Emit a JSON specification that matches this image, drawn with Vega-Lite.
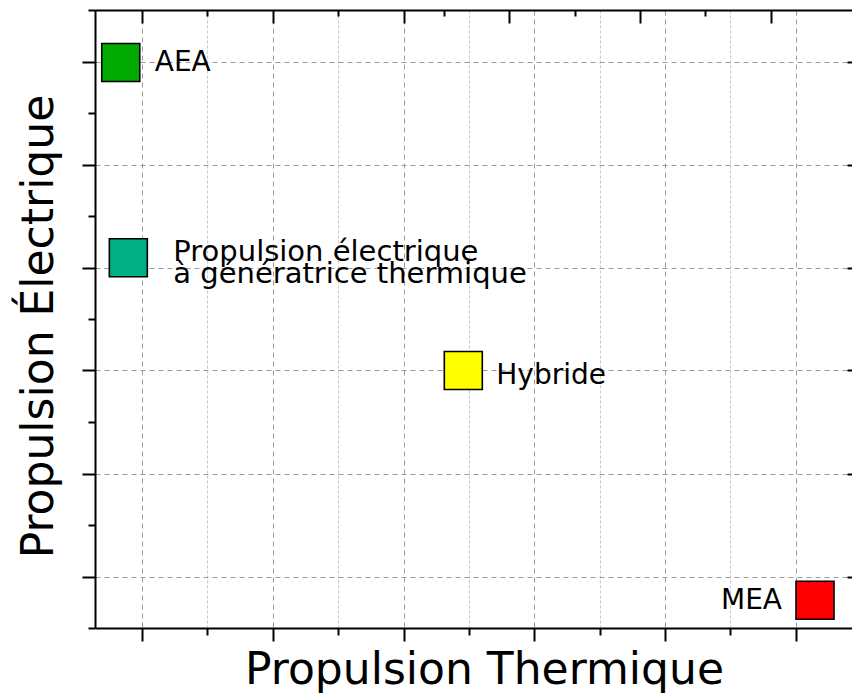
{
  "$schema": "https://vega.github.io/schema/vega-lite/v6.json",
  "width": 757,
  "height": 618,
  "autosize": "none",
  "padding": {"left": 95, "top": 10, "right": 0, "bottom": 65},
  "background": "white",
  "config": {"view": {"stroke": null}, "font": "DejaVu Sans"},
  "data": {
    "values": [
      {"name": "AEA", "label": "AEA", "thermique": 0.837, "electrique": 5.99},
      {"name": "PEGT", "label": "Propulsion électrique\nà génératrice thermique", "thermique": 0.895, "electrique": 4.094},
      {"name": "Hybride", "label": "Hybride", "thermique": 3.457, "electrique": 3.0},
      {"name": "MEA", "label": "MEA", "thermique": 6.147, "electrique": 0.769}
    ]
  },
  "layer": [
    {
      "mark": {"type": "square", "size": 1444, "opacity": 1, "filled": true, "stroke": "black", "strokeWidth": 1.6},
      "encoding": {
        "x": {
          "field": "thermique", "type": "quantitative",
          "scale": {"domain": [0.64, 6.43], "nice": false, "zero": false},
          "axis": {
            "orient": "bottom",
            "values": [1, 1.5, 2, 2.5, 3, 3.5, 4, 4.5, 5, 5.5, 6],
            "labels": false,
            "tickSize": {"condition": {"test": "datum.value % 1 === 0", "value": 13}, "value": 7},
            "tickColor": "black", "tickWidth": 2,
            "domainColor": "black", "domainWidth": 2,
            "grid": true,
            "gridColor": {"condition": {"test": "datum.value % 1 === 0", "value": "#9a9a9a"}, "value": "#c8c8c8"},
            "gridDash": {"condition": {"test": "datum.value % 1 === 0", "value": [5, 4]}, "value": [3, 2]},
            "gridWidth": 1,
            "title": "Propulsion Thermique",
            "titleFont": "DejaVu Sans", "titleFontSize": 44, "titleFontWeight": "normal", "titleColor": "black",
            "titleX": 389, "titleY": 55, "titleBaseline": "alphabetic", "titleAlign": "center"
          }
        },
        "y": {
          "field": "electrique", "type": "quantitative",
          "scale": {"domain": [0.5, 6.5], "nice": false, "zero": false},
          "axis": {
            "orient": "left",
            "values": [0.5, 1, 1.5, 2, 2.5, 3, 3.5, 4, 4.5, 5, 5.5, 6, 6.5],
            "labels": false,
            "tickSize": {"condition": {"test": "datum.value % 1 === 0", "value": 13}, "value": 7},
            "tickColor": "black", "tickWidth": 2,
            "domainColor": "black", "domainWidth": 2,
            "grid": true,
            "gridColor": "#9a9a9a",
            "gridOpacity": {"condition": {"test": "datum.value % 1 === 0", "value": 1}, "value": 0},
            "gridDash": [5, 4],
            "gridWidth": 1,
            "title": "Propulsion Électrique",
            "titleFont": "DejaVu Sans", "titleFontSize": 44, "titleFontWeight": "normal", "titleColor": "black",
            "titleAngle": -90, "titleX": -43, "titleY": 316, "titleBaseline": "alphabetic", "titleAlign": "center"
          }
        },
        "color": {
          "field": "name", "type": "nominal",
          "scale": {"domain": ["AEA", "PEGT", "Hybride", "MEA"], "range": ["#00aa00", "#00b084", "#ffff00", "#ff0000"]},
          "legend": null
        }
      }
    },
    {
      "mark": {"type": "point", "opacity": 0},
      "encoding": {
        "x": {
          "field": "thermique", "type": "quantitative",
          "scale": {"domain": [0.64, 6.43], "nice": false, "zero": false},
          "axis": {
            "orient": "top",
            "values": [1, 1.5, 2, 2.5, 3, 3.309, 3.807, 4.311, 4.809, 5.306, 5.811],
            "labels": false,
            "tickSize": {"condition": {"test": "abs((datum.value % 1) - 0.4) < 0.15", "value": -6}, "value": -13},
            "tickColor": "black", "tickWidth": 2,
            "domainColor": "black", "domainWidth": 2,
            "grid": false,
            "title": null
          }
        },
        "y": {
          "field": "electrique", "type": "quantitative",
          "scale": {"domain": [0.5, 6.5], "nice": false, "zero": false},
          "axis": {
            "orient": "right",
            "values": [1, 2, 3, 4, 5, 6],
            "labels": false,
            "tickSize": -5,
            "tickColor": "black", "tickWidth": 2,
            "domain": false,
            "grid": false,
            "title": null
          }
        }
      }
    },
    {
      "transform": [{"filter": "datum.name === 'AEA'"}],
      "mark": {"type": "text", "align": "left", "baseline": "alphabetic", "dx": 34, "dy": 8, "fontSize": 28, "font": "DejaVu Sans", "color": "black"},
      "encoding": {
        "x": {"field": "thermique", "type": "quantitative", "scale": {"domain": [0.64, 6.43], "nice": false, "zero": false}, "axis": null},
        "y": {"field": "electrique", "type": "quantitative", "scale": {"domain": [0.5, 6.5], "nice": false, "zero": false}, "axis": null},
        "text": {"field": "label"}
      }
    },
    {
      "transform": [{"filter": "datum.name === 'PEGT'"}],
      "mark": {"type": "text", "align": "left", "baseline": "alphabetic", "dx": 45, "dy": 3.5, "fontSize": 29, "font": "DejaVu Sans", "color": "black", "lineBreak": "\n", "lineHeight": 22},
      "encoding": {
        "x": {"field": "thermique", "type": "quantitative", "scale": {"domain": [0.64, 6.43], "nice": false, "zero": false}, "axis": null},
        "y": {"field": "electrique", "type": "quantitative", "scale": {"domain": [0.5, 6.5], "nice": false, "zero": false}, "axis": null},
        "text": {"field": "label"}
      }
    },
    {
      "transform": [{"filter": "datum.name === 'Hybride'"}],
      "mark": {"type": "text", "align": "left", "baseline": "alphabetic", "dx": 33, "dy": 13.5, "fontSize": 28, "font": "DejaVu Sans", "color": "black"},
      "encoding": {
        "x": {"field": "thermique", "type": "quantitative", "scale": {"domain": [0.64, 6.43], "nice": false, "zero": false}, "axis": null},
        "y": {"field": "electrique", "type": "quantitative", "scale": {"domain": [0.5, 6.5], "nice": false, "zero": false}, "axis": null},
        "text": {"field": "label"}
      }
    },
    {
      "transform": [{"filter": "datum.name === 'MEA'"}],
      "mark": {"type": "text", "align": "right", "baseline": "alphabetic", "dx": -33, "dy": 9, "fontSize": 28, "font": "DejaVu Sans", "color": "black"},
      "encoding": {
        "x": {"field": "thermique", "type": "quantitative", "scale": {"domain": [0.64, 6.43], "nice": false, "zero": false}, "axis": null},
        "y": {"field": "electrique", "type": "quantitative", "scale": {"domain": [0.5, 6.5], "nice": false, "zero": false}, "axis": null},
        "text": {"field": "label"}
      }
    }
  ],
  "resolve": {"axis": {"x": "independent", "y": "independent"}}
}
